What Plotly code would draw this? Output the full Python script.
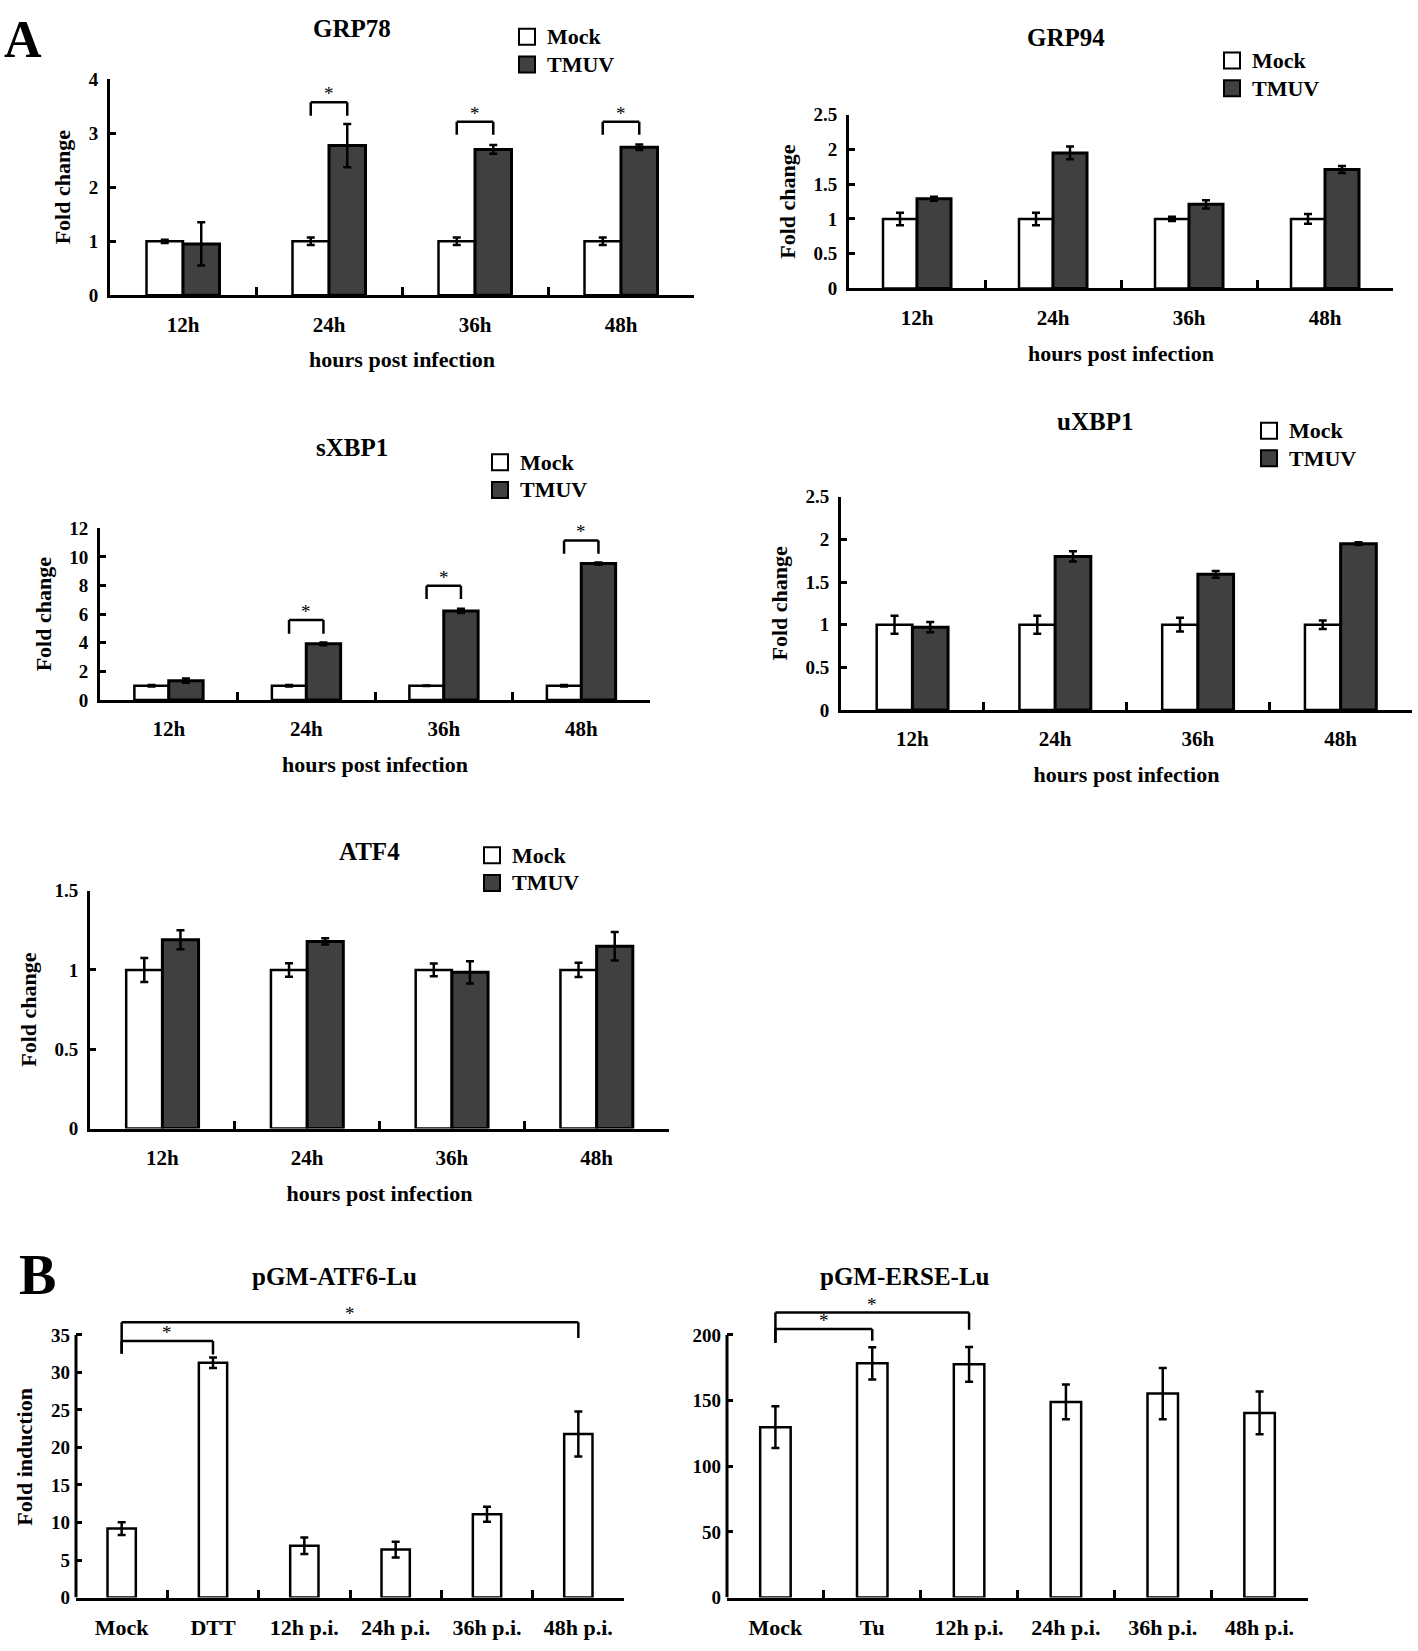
import plotly.graph_objects as go

W, H = 1418, 1651
FONT = "Liberation Serif"

# ---------------- data ----------------
hours = ["12h", "24h", "36h", "48h"]

grp78_mock = [1.0, 1.0, 1.0, 1.0]
grp78_mock_err = [0.03, 0.07, 0.07, 0.07]
grp78_tmuv = [0.95, 2.77, 2.70, 2.74]
grp78_tmuv_err = [0.40, 0.40, 0.08, 0.05]
grp78_sig = ["24h", "36h", "48h"]
grp78_sig_top = [3.57, 3.21, 3.21]
grp78_sig_leg_l = [3.32, 2.97, 2.97]
grp78_sig_leg_r = [3.32, 2.97, 2.97]

grp94_mock = [1.0, 1.0, 1.0, 1.0]
grp94_mock_err = [0.09, 0.09, 0.03, 0.07]
grp94_tmuv = [1.29, 1.95, 1.21, 1.71]
grp94_tmuv_err = [0.03, 0.09, 0.06, 0.05]

sxbp1_mock = [1.0, 1.0, 1.0, 1.0]
sxbp1_mock_err = [0.05, 0.05, 0.02, 0.05]
sxbp1_tmuv = [1.36, 3.93, 6.23, 9.54]
sxbp1_tmuv_err = [0.15, 0.10, 0.15, 0.08]
sxbp1_sig = ["24h", "36h", "48h"]
sxbp1_sig_top = [5.6, 7.98, 11.15]
sxbp1_sig_leg_l = [4.64, 7.06, 10.23]
sxbp1_sig_leg_r = [4.64, 7.06, 10.23]

uxbp1_mock = [1.0, 1.0, 1.0, 1.0]
uxbp1_mock_err = [0.105, 0.105, 0.08, 0.05]
uxbp1_tmuv = [0.97, 1.80, 1.59, 1.95]
uxbp1_tmuv_err = [0.06, 0.06, 0.04, 0.015]

atf4_mock = [1.0, 1.0, 1.0, 1.0]
atf4_mock_err = [0.076, 0.043, 0.04, 0.045]
atf4_tmuv = [1.19, 1.18, 0.985, 1.15]
atf4_tmuv_err = [0.06, 0.02, 0.07, 0.09]

atf6_cats = ["Mock", "DTT", "12h p.i.", "24h p.i.", "36h p.i.", "48h p.i."]
atf6_vals = [9.2, 31.3, 6.9, 6.4, 11.1, 21.8]
atf6_err = [0.85, 0.7, 1.1, 1.05, 1.0, 3.0]
atf6_sig_from = ["Mock", "Mock"]
atf6_sig_to = ["DTT", "48h p.i."]
atf6_sig_top = [34.2, 36.7]
atf6_sig_leg_l = [32.5, 32.5]
atf6_sig_leg_r = [32.4, 34.6]

erse_cats = ["Mock", "Tu", "12h p.i.", "24h p.i.", "36h p.i.", "48h p.i."]
erse_vals = [129.7, 178.4, 177.6, 149.0, 155.3, 140.6]
erse_err = [15.9, 12.3, 13.3, 13.3, 19.5, 16.3]
erse_sig_from = ["Mock", "Mock"]
erse_sig_to = ["Tu", "12h p.i."]
erse_sig_top = [204.5, 217.0]
erse_sig_leg_l = [194.0, 194.0]
erse_sig_leg_r = [195.5, 204.0]

# ---------------- styling ----------------
BARGAP = 0.5
DARK = "#404040"
LW = 3


def fnt(size, bold=True):
    d = dict(family=FONT, size=size, color="black")
    if bold:
        d["weight"] = "bold"
    return d


def dx(l, r):
    return [l / W, r / W]


def dy(t, b):
    return [1 - b / H, 1 - t / H]


fig = go.Figure()
shapes = []
annots = []
layout = dict(
    width=W, height=H, margin=dict(l=0, r=0, t=0, b=0), autosize=False,
    paper_bgcolor="white", plot_bgcolor="white",
    barmode="group", bargap=BARGAP, bargroupgap=0,
)


def ax_names(k):
    s = "" if k == 1 else str(k)
    return "xaxis" + s, "yaxis" + s, "x" + s, "y" + s


def setup_axes(k, xd, yd, yrange, tickvals, ytitle, xtitle, yline=True, ytitle_standoff=12,
               xtick_size=21):
    xa_n, ya_n, xr, yr = ax_names(k)
    xa = dict(domain=xd, anchor=yr, type="category", showline=True, linewidth=LW,
              linecolor="black", ticks="inside", tickson="boundaries", ticklen=8,
              tickwidth=3, tickcolor="black", showgrid=False, zeroline=False,
              tickfont=fnt(xtick_size), ticklabelstandoff=8)
    if xtitle:
        xa["title"] = dict(text=xtitle, font=fnt(22), standoff=17)
    ya = dict(domain=yd, anchor=xr, range=yrange, tickvals=tickvals,
              showline=yline, linewidth=LW, linecolor="black", ticks="inside",
              ticklen=6, tickwidth=3, tickcolor="black", showgrid=False,
              zeroline=False, tickfont=fnt(19), ticklabelstandoff=5)
    if ytitle:
        ya["title"] = dict(text=ytitle, font=fnt(22), standoff=ytitle_standoff)
    layout[xa_n] = xa
    layout[ya_n] = ya
    if not yline:
        shapes.append(dict(type="line", xref=xr + " domain", yref=yr, x0=0, x1=0,
                           y0=tickvals[0], y1=tickvals[-1],
                           line=dict(color="black", width=LW)))
    return xr, yr


def err(v):
    return dict(type="data", array=v, visible=True, color="black", thickness=2.5, width=4)


def grouped_panel(k, title, title_xy, mock, mock_e, tmuv, tmuv_e, xd, yd, yrange, tickvals,
                  legend_xy, sig=None, sig_top=None, sig_l=None, sig_r=None):
    xr, yr = setup_axes(k, xd, yd, yrange, tickvals, "Fold change", "hours post infection")
    lg = "legend" if k == 1 else "legend" + str(k)
    fig.add_trace(go.Bar(x=hours, y=mock, name="Mock", xaxis=xr, yaxis=yr, showlegend=False,
                         marker=dict(color="white", line=dict(color="black", width=2.5)),
                         error_y=err(mock_e)))
    fig.add_trace(go.Bar(x=hours, y=tmuv, name="TMUV", xaxis=xr, yaxis=yr, showlegend=False,
                         marker=dict(color=DARK, line=dict(color="black", width=3)),
                         error_y=err(tmuv_e)))
    for nm, col in (("Mock", "white"), ("TMUV", DARK)):
        fig.add_trace(go.Scatter(x=[None], y=[None], mode="markers",
                                 name="<span style='font-size:22px'>%s</span>" % nm,
                                 xaxis=xr, yaxis=yr, legend=lg, showlegend=True,
                                 marker=dict(symbol="square", size=16, color=col,
                                             line=dict(color="black", width=2))))
    # legend_xy = centre of the first swatch (px)
    layout[lg] = dict(x=(legend_xy[0] - 20) / W, y=1 - (legend_xy[1] - 19) / H, xanchor="left",
                      yanchor="top", font=fnt(19), bgcolor="rgba(0,0,0,0)",
                      tracegroupgap=0, itemwidth=30, itemsizing="trace")
    annots.append(dict(text=title, x=title_xy[0] / W, y=1 - title_xy[1] / H, xref="paper",
                       yref="paper", showarrow=False, font=fnt(25), xanchor="center",
                       yanchor="middle"))
    if sig:
        off = (1 - BARGAP) / 4
        for c, top, yl, yrr in zip(sig, sig_top, sig_l, sig_r):
            i = hours.index(c)
            add_bracket(xr, yr, i - off, i + off, top, yl, yrr)


def add_bracket(xr, yr, x0, x1, top, yl, yrr):
    ln = dict(color="black", width=2.5)
    shapes.append(dict(type="line", xref=xr, yref=yr, x0=x0, x1=x0, y0=yl, y1=top, line=ln))
    shapes.append(dict(type="line", xref=xr, yref=yr, x0=x0, x1=x1, y0=top, y1=top, line=ln))
    shapes.append(dict(type="line", xref=xr, yref=yr, x0=x1, x1=x1, y0=yrr, y1=top, line=ln))
    annots.append(dict(text="*", x=(x0 + x1) / 2, y=top, xref=xr, yref=yr, showarrow=False,
                       font=fnt(19, bold=False), xanchor="center", yanchor="bottom", yshift=-4))


# ---------------- Panel A ----------------
grouped_panel(1, "GRP78", (352, 19), grp78_mock, grp78_mock_err, grp78_tmuv, grp78_tmuv_err,
              dx(110, 694), dy(70, 289), [0, 4], [0, 1, 2, 3, 4], (527, 27),
              grp78_sig, grp78_sig_top, grp78_sig_leg_l, grp78_sig_leg_r)
grouped_panel(2, "GRP94", (1066, 28), grp94_mock, grp94_mock_err, grp94_tmuv, grp94_tmuv_err,
              dx(849, 1393), dy(106, 282), [0, 2.5], [0, 0.5, 1, 1.5, 2, 2.5], (1232, 51))
grouped_panel(3, "sXBP1", (352, 443), sxbp1_mock, sxbp1_mock_err, sxbp1_tmuv, sxbp1_tmuv_err,
              dx(100, 650), dy(525, 699), [0, 12], [0, 2, 4, 6, 8, 10, 12], (500, 458),
              sxbp1_sig, sxbp1_sig_top, sxbp1_sig_leg_l, sxbp1_sig_leg_r)
grouped_panel(4, "uXBP1", (1095, 417), uxbp1_mock, uxbp1_mock_err, uxbp1_tmuv, uxbp1_tmuv_err,
              dx(841, 1412), dy(493, 709), [0, 2.5], [0, 0.5, 1, 1.5, 2, 2.5], (1269, 426))
grouped_panel(5, "ATF4", (369, 852), atf4_mock, atf4_mock_err, atf4_tmuv, atf4_tmuv_err,
              dx(90, 669), dy(892, 1133), [0, 1.5], [0, 0.5, 1, 1.5], (492, 856))

# ---------------- Panel B ----------------
xr, yr = setup_axes(6, dx(76, 624), dy(1608 - 266 * 37.5 / 35, 1608), [0, 37.5],
                    [0, 5, 10, 15, 20, 25, 30, 35], "Fold induction", None, yline=False,
                    xtick_size=22)
fig.add_trace(go.Bar(x=atf6_cats, y=atf6_vals, xaxis=xr, yaxis=yr, width=0.31, showlegend=False,
                     marker=dict(color="white", line=dict(color="black", width=2.5)),
                     error_y=err(atf6_err)))
for a, b, top, yl, yrr in zip(atf6_sig_from, atf6_sig_to, atf6_sig_top, atf6_sig_leg_l, atf6_sig_leg_r):
    add_bracket(xr, yr, atf6_cats.index(a), atf6_cats.index(b), top, yl, yrr)
annots.append(dict(text="pGM-ATF6-Lu", x=334 / W, y=1 - 1283 / H, xref="paper", yref="paper",
                   showarrow=False, font=fnt(25), xanchor="center", yanchor="middle"))

xr, yr = setup_axes(7, dx(727, 1308), dy(1608 - 266 * 226 / 200, 1608), [0, 226],
                    [0, 50, 100, 150, 200], None, None, yline=False, xtick_size=22)
fig.add_trace(go.Bar(x=erse_cats, y=erse_vals, xaxis=xr, yaxis=yr, width=0.315, showlegend=False,
                     marker=dict(color="white", line=dict(color="black", width=2.5)),
                     error_y=err(erse_err)))
for a, b, top, yl, yrr in zip(erse_sig_from, erse_sig_to, erse_sig_top, erse_sig_leg_l, erse_sig_leg_r):
    add_bracket(xr, yr, erse_cats.index(a), erse_cats.index(b), top, yl, yrr)
annots.append(dict(text="pGM-ERSE-Lu", x=905 / W, y=1 - 1283 / H, xref="paper", yref="paper",
                   showarrow=False, font=fnt(25), xanchor="center", yanchor="middle"))

# panel letters
annots.append(dict(text="A", x=23 / W, y=1, xref="paper", yref="paper", showarrow=False,
                   font=fnt(52), xanchor="center", yanchor="top", borderpad=0))
annots.append(dict(text="B", x=37 / W, y=1 - 1281 / H, xref="paper", yref="paper", showarrow=False,
                   font=fnt(56), xanchor="center", yanchor="middle"))

layout["shapes"] = shapes
layout["annotations"] = annots
fig.update_layout(**layout)

fig.write_html("out.html", config={"displayModeBar": False},
               post_script="document.body.style.margin='0px';")
